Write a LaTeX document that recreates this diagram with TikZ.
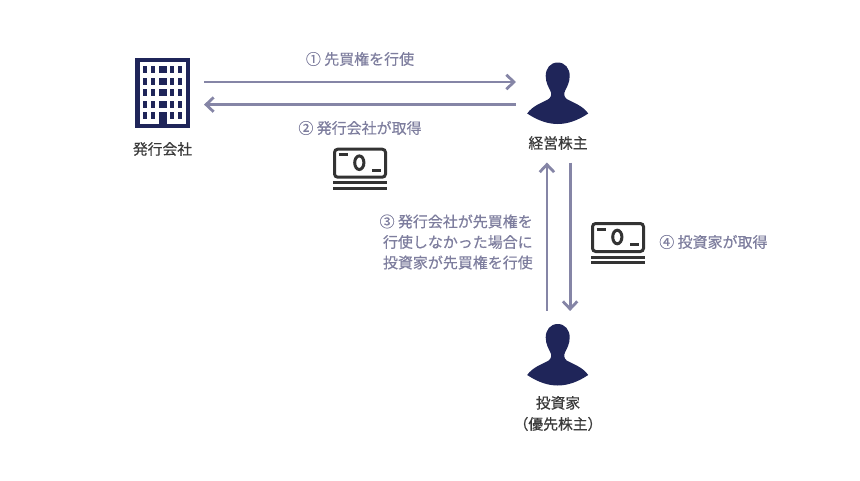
\documentclass[tikz,border=0pt]{standalone}
\usepackage{fontspec}
\setmainfont{Noto Sans CJK JP}[RawFeature={embolden=0.5}]
\usetikzlibrary{arrows.meta}
\definecolor{navyicon}{HTML}{1F2559}
\definecolor{flowline}{HTML}{8585A6}
\definecolor{flowtext}{HTML}{7E7E9E}
\definecolor{nametext}{HTML}{3A3A3A}
\definecolor{cashline}{HTML}{333333}
\tikzset{
    flow/.style={line width=0.07cm, flowline, -{Straight Barb[length=1.9mm,width=3.6mm,line width=0.07cm]}},
    iconarea/.style={inner sep=0pt, outer sep=0pt},
    flowlabel/.style={flowtext, font=\fontsize{10.65}{14.6}\selectfont, inner sep=0pt},
    namelabel/.style={nametext, font=\fontsize{10.5}{15}\selectfont, inner sep=0pt, align=center},
    cashstroke/.style={cashline, line width=0.075cm}
}
\begin{document}
\begin{tikzpicture}[x=0.025cm, y=-0.025cm]
    \useasboundingbox (0,0) rectangle (860,480);

    % Issuer building
    \fill[navyicon] (135,58) rectangle (190,128);
    \fill[white] (139.5,62) rectangle (185.5,124);
    \foreach \r in {66,77.5,89,100.5,112} {
        \foreach \c/\w in {143.3/4,151.2/4,158.7/8,170.3/4,178/4} {
            \fill[navyicon] (\c,\r) rectangle ({\c+\w},{\r+7.3});
        }
    }
    \fill[navyicon] (158.7,112) rectangle (166.7,124);

    % People
    \foreach \y in {62.5,324} {
        \fill[navyicon, shift={(557.7,\y)}] (0,0)
            .. controls (7.5,0) and (12,6) .. (12,13.5)
            .. controls (12,20) and (9,25) .. (7.5,28)
            .. controls (6,31) and (6,34) .. (9,36.5)
            .. controls (15,40) and (25,43) .. (30.5,51)
            .. controls (20,58) and (10,61.5) .. (0,61.5)
            .. controls (-10,61.5) and (-20,58) .. (-30.5,51)
            .. controls (-25,43) and (-15,40) .. (-9,36.5)
            .. controls (-6,34) and (-6,31) .. (-7.5,28)
            .. controls (-9,25) and (-12,20) .. (-12,13.5)
            .. controls (-12,6) and (-7.5,0) .. (0,0) -- cycle;
    }

    % Banknotes
    \foreach \x/\y in {333/147.7,591/222} {
        \begin{scope}[shift={(\x,\y)}]
            \draw[cashstroke, rounded corners=0.08cm] (1.5,1.5) rectangle (52.5,29.5);
            \draw[cashstroke] (0,35) -- (54,35);
            \draw[cashstroke] (0,40.7) -- (54,40.7);
            \draw[cashstroke] (5.7,7) -- (15,7);
            \draw[cashstroke] (39,22.6) -- (48,22.6);
            \draw[cashstroke] (26.3,15) ellipse [x radius=4.6, y radius=6.8];
        \end{scope}
    }

    % Icon areas the arrows attach to
    \node[iconarea, minimum width=2.075cm, minimum height=1.75cm] (issuer) at (162.5,93) {};
    \node[iconarea, minimum width=2.085cm, minimum height=3.475cm] (owner) at (557.7,93) {};
    \node[iconarea, minimum width=2.085cm, minimum height=2.175cm] (investor) at (557.7,354.5) {};

    % Arrows
    \draw[flow] ([yshift=0.275cm]issuer.east) -- ([yshift=0.275cm]owner.west);
    \draw[flow] ([yshift=-0.29cm]owner.west) -- ([yshift=-0.29cm]issuer.east);
    \draw[flow] ([xshift=-0.27cm]investor.north) -- ([xshift=-0.27cm]owner.south);
    \draw[flow] ([xshift=0.31cm]owner.south) -- ([xshift=0.31cm]investor.north);

    % Names
    \node[namelabel] (issuername) at (162.5,149) {発行会社};
    \node[namelabel] (ownername) at (558,143) {経営株主};
    \node[namelabel] (investorname) at (558,413.5) {投資家\\（優先株主）};

    % Steps
    \node[flowlabel] (stepone) at (360,59) {① 先買権を行使};
    \node[flowlabel] (steptwo) at (360,128) {② 発行会社が取得};
    \node[flowlabel, anchor=east, align=right] (stepthree) at (533,242) {③ 発行会社が先買権を\\行使しなかった場合に\\投資家が先買権を行使};
    \node[flowlabel, anchor=west] (stepfour) at (659,242) {④ 投資家が取得};
\end{tikzpicture}
\end{document}
